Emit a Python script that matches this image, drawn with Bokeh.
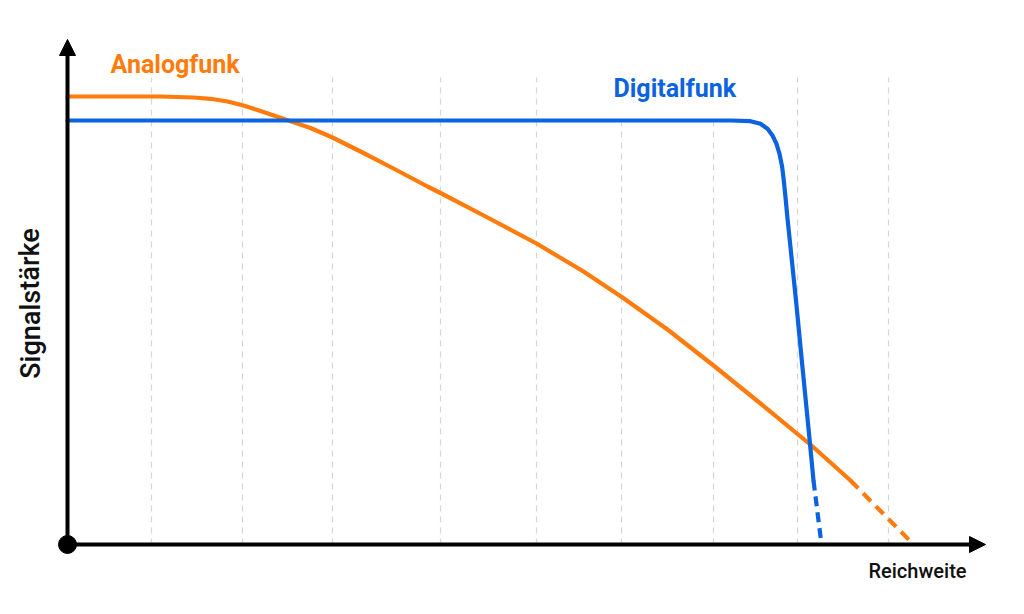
from bokeh.plotting import figure
from bokeh.models import Range1d, Arrow, NormalHead
from bokeh.core.properties import value
from bokeh.embed import file_html
from bokeh.resources import INLINE

# ---- data (arbitrary units: distance vs. signal strength) ----
analog_x = [0, 9.3, 12.6, 14.3, 16.0, 17.6, 19.3, 21.0, 22.1, 24.3, 26.5, 29.3, 32.6,
            36.0, 37.3, 42.0, 46.9, 51.6, 55.5, 60.0, 64.6, 69.3, 74.4, 78.3]
analog_y = [44.8, 44.8, 44.7, 44.57, 44.3, 43.9, 43.35, 42.77, 42.4, 41.65, 40.7, 39.3, 37.6,
            35.8, 35.15, 32.7, 30.1, 27.3, 24.7, 21.5, 17.9, 14.1, 9.9, 6.4]
analog_tail_x = [78.3, 84.6]
analog_tail_y = [6.4, 0.0]

digital_x = [0, 66.3, 68.3, 69.3, 70.0, 70.5, 70.9, 71.2, 71.47, 71.63, 71.8, 72.0, 72.23,
             72.85, 73.5, 74.15, 74.6]
digital_y = [42.4, 42.4, 42.33, 42.07, 41.57, 40.9, 40.07, 39.07, 37.73, 36.4, 34.73, 32.6, 30.4,
             24.4, 17.7, 11.1, 6.4]
digital_tail_x = [74.6, 75.4]
digital_tail_y = [6.4, 0.0]

grid_x = [8.4, 17.5, 26.5, 37.3, 46.9, 55.4, 64.6, 73.0, 82.1]
grid_top = [46.7, 46.7, 46.7, 46.7, 46.7, 42.7, 42.7, 46.7, 46.7]

labels = ["Analogfunk", "Digitalfunk"]
x_label = "Reichweite"
y_label = "Signalstärke"

ORANGE = "#ff7b0c"
BLUE = "#0b63e0"

p = figure(width=1008, height=598, x_range=Range1d(-6.7, 94.1), y_range=Range1d(-5.4, 54.4),
           output_backend="svg", toolbar_location=None, min_border=0,
           x_axis_location=None, y_axis_location=None, outline_line_color=None,
           background_fill_color="white", border_fill_color="white")
p.grid.visible = False

# dashed vertical guides
p.segment(x0=grid_x, y0=[0] * len(grid_x), x1=grid_x, y1=grid_top,
          line_color="#d6d6d6", line_width=1.2, line_dash="6 5")

# curves
p.line(analog_x, analog_y, line_color=ORANGE, line_width=4.2, line_join="round", line_cap="round")
p.line(analog_tail_x, analog_tail_y, line_color=ORANGE, line_width=4.2, line_dash="11 7")
p.line(digital_x, digital_y, line_color=BLUE, line_width=4.2, line_join="round", line_cap="round")
p.line(digital_tail_x, digital_tail_y, line_color=BLUE, line_width=4.2, line_dash="10 6")

# axes with arrows
p.add_layout(Arrow(x_start=0, y_start=0, x_end=0, y_end=50.5, line_width=4, line_color="black",
                   end=NormalHead(size=16, fill_color="black", line_color="black")))
p.add_layout(Arrow(x_start=0, y_start=0, x_end=91.8, y_end=0, line_width=4, line_color="black",
                   end=NormalHead(size=16, fill_color="black", line_color="black")))
p.scatter([0], [0], size=18, color="black")

# series labels
p.text(x=[4.3], y=[48.0], text=[labels[0]], text_color=ORANGE, text_font=value("Roboto"),
       text_font_size=value("25px"), text_font_style="bold", text_baseline="alphabetic")
p.text(x=[54.6], y=[45.6], text=[labels[1]], text_color=BLUE, text_font=value("Roboto"),
       text_font_size=value("25px"), text_font_style="bold", text_baseline="alphabetic")

# axis titles
p.text(x=[80.1], y=[-2.6], text=[x_label], text_color="#111111", text_font=value("Roboto Medium"),
       text_font_size=value("20px"), text_baseline="alphabetic")
p.text(x=[-3.7], y=[24.1], text=[y_label], text_color="#111111", text_font=value("Roboto Medium"),
       text_font_size=value("27px"), angle=1.5708, text_align="center", text_baseline="middle")

open("out.html", "w").write(file_html(p, INLINE))
